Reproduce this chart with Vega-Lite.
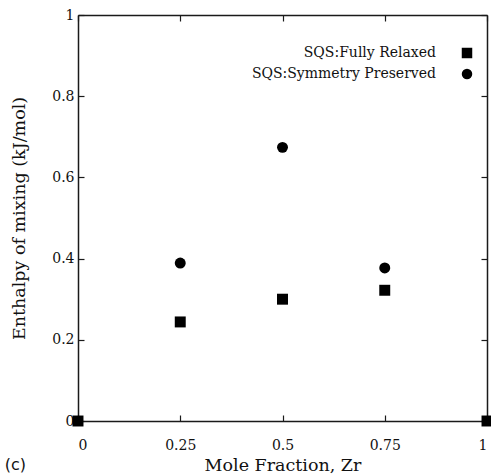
{
  "$schema": "https://vega.github.io/schema/vega-lite/v6.json",
  "width": 409,
  "height": 406,
  "padding": {"left": 4, "top": 8, "right": 2, "bottom": 2},
  "background": "white",
  "config": {
    "view": {"stroke": null},
    "font": "DejaVu Serif",
    "axis": {
      "grid": false,
      "domainColor": "#1a1a1a",
      "domainWidth": 1.5,
      "tickColor": "#1a1a1a",
      "tickWidth": 1.2,
      "tickSize": -6,
      "labelFont": "DejaVu Serif",
      "labelFontSize": 14,
      "labelColor": "#111111",
      "titleFont": "DejaVu Serif",
      "titleFontSize": 17.5,
      "titleFontWeight": "normal",
      "titleColor": "#111111"
    },
    "legend": {
      "labelFont": "DejaVu Serif",
      "labelFontSize": 14,
      "labelColor": "#111111",
      "labelLimit": 400
    }
  },
  "title": {
    "text": "(c)",
    "orient": "bottom",
    "anchor": "start",
    "frame": "bounds",
    "font": "DejaVu Sans",
    "fontSize": 16,
    "fontWeight": "normal",
    "color": "#111111",
    "offset": -17,
    "dx": -6
  },
  "data": {
    "values": [
      {"x": 0, "y": 0, "series": "SQS:Fully Relaxed"},
      {"x": 0.25, "y": 0.244, "series": "SQS:Fully Relaxed"},
      {"x": 0.5, "y": 0.300, "series": "SQS:Fully Relaxed"},
      {"x": 0.75, "y": 0.322, "series": "SQS:Fully Relaxed"},
      {"x": 1, "y": 0, "series": "SQS:Fully Relaxed"},
      {"x": 0.25, "y": 0.389, "series": "SQS:Symmetry Preserved"},
      {"x": 0.5, "y": 0.674, "series": "SQS:Symmetry Preserved"},
      {"x": 0.75, "y": 0.377, "series": "SQS:Symmetry Preserved"}
    ]
  },
  "layer": [
    {
      "mark": {"type": "point", "filled": true, "color": "black", "opacity": 1, "size": 120, "clip": false},
      "encoding": {
        "x": {
          "field": "x", "type": "quantitative",
          "scale": {"domain": [0, 1], "nice": false, "zero": false},
          "axis": {"title": "Mole Fraction, Zr", "values": [0, 0.25, 0.5, 0.75, 1], "format": ".2~f", "labelPadding": 23, "titlePadding": 4}
        },
        "y": {
          "field": "y", "type": "quantitative",
          "scale": {"domain": [0, 1], "nice": false, "zero": false},
          "axis": {"title": "Enthalpy of mixing (kJ/mol)", "values": [0, 0.2, 0.4, 0.6, 0.8, 1], "format": ".1~f", "labelPadding": 10, "titlePadding": 23}
        },
        "shape": {
          "field": "series", "type": "nominal",
          "scale": {"domain": ["SQS:Fully Relaxed", "SQS:Symmetry Preserved"], "range": ["square", "circle"]},
          "legend": {
            "title": null,
            "orient": "none",
            "legendX": 382,
            "legendY": 31,
            "labelAlign": "right",
            "labelOffset": -38,
            "symbolSize": 110,
            "symbolFillColor": "black",
            "symbolStrokeColor": "black",
            "rowPadding": 3
          }
        }
      }
    },
    {
      "mark": {"type": "point", "opacity": 0},
      "encoding": {
        "x": {
          "field": "x", "type": "quantitative",
          "scale": {"domain": [0, 1], "nice": false, "zero": false},
          "axis": {"orient": "top", "title": null, "labels": false, "values": [0, 0.25, 0.5, 0.75, 1]}
        },
        "y": {
          "field": "y", "type": "quantitative",
          "scale": {"domain": [0, 1], "nice": false, "zero": false},
          "axis": {"orient": "right", "title": null, "labels": false, "values": [0, 0.2, 0.4, 0.6, 0.8, 1]}
        }
      }
    }
  ],
  "resolve": {"axis": {"x": "independent", "y": "independent"}}
}
